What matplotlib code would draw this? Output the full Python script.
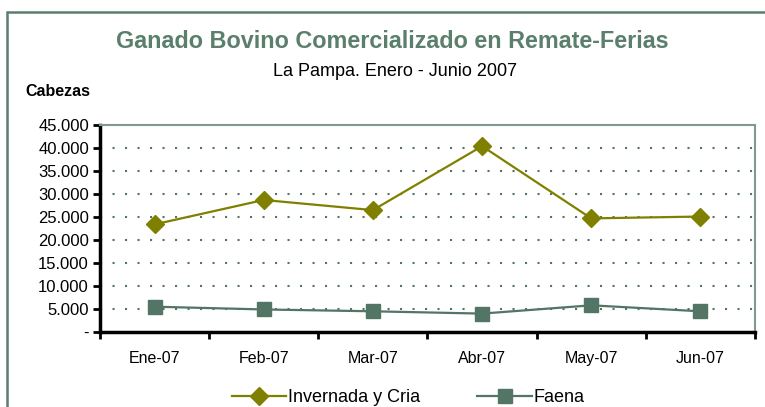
import matplotlib
matplotlib.use("Agg")
import matplotlib.pyplot as plt
from matplotlib.patches import Rectangle
from matplotlib.ticker import FuncFormatter, FixedLocator

plt.rcParams["font.family"] = ["Liberation Sans", "DejaVu Sans"]

# Data
months = ["Ene-07", "Feb-07", "Mar-07", "Abr-07", "May-07", "Jun-07"]
invernada = [23400, 28700, 26500, 40400, 24700, 25100]
faena = [5500, 4900, 4500, 4000, 5800, 4500]
y_ticks = [0, 5000, 10000, 15000, 20000, 25000, 30000, 35000, 40000, 45000]

OLIVE = "#808000"
SLATE = "#527565"
FRAME = "#5b7f6d"


def fmt_thousands(v, pos):
    if v == 0:
        return "-"
    return f"{int(v):,}".replace(",", ".")


fig = plt.figure(figsize=(7.65, 4.07), dpi=100, facecolor="white")

# outer chart frame
fig.patches.append(Rectangle((7 / 765, -0.1), 1.2, 1.1 - 12 / 407,
                             transform=fig.transFigure, fill=False,
                             edgecolor=FRAME, linewidth=1.8, clip_on=False))

ax = fig.add_axes([100 / 765, 75 / 407, 655 / 765, 207 / 407])
x = list(range(len(months)))

ax.plot(x, invernada, color=OLIVE, linewidth=1.6, marker="D",
        markersize=9, label="Invernada y Cria", zorder=3)
ax.plot(x, faena, color=SLATE, linewidth=1.6, marker="s",
        markersize=10, label="Faena", zorder=3)

ax.set_xlim(-0.5, len(months) - 0.5)
ax.set_ylim(0, 45000)

ax.set_yticks(y_ticks)
ax.yaxis.set_major_formatter(FuncFormatter(fmt_thousands))
for v in y_ticks[1:-1]:
    ax.axhline(v, color=SLATE, linewidth=1.5, linestyle=(0, (1, 5)), zorder=1)

ax.set_xticks(x)
ax.set_xticklabels(months)
ax.xaxis.set_minor_locator(FixedLocator([i - 0.5 for i in range(len(months) + 1)]))
ax.tick_params(axis="x", which="major", length=0, pad=14, labelsize=11.5)
ax.tick_params(axis="x", which="minor", length=5, width=2, direction="out")
ax.tick_params(axis="y", length=5, width=2, labelsize=12, pad=3)

ax.spines["left"].set_linewidth(2.5)
ax.spines["bottom"].set_linewidth(2.5)
ax.spines["top"].set_color("#7f9a8c")
ax.spines["right"].set_color("#7f9a8c")
ax.spines["top"].set_linewidth(1.5)
ax.spines["right"].set_linewidth(1.5)

fig.text(392 / 765, 1 - 42 / 407, "Ganado Bovino Comercializado en Remate-Ferias",
         ha="center", va="center", fontsize=16.8, fontweight="bold", color=FRAME)
fig.text(395 / 765, 1 - 71 / 407, "La Pampa. Enero - Junio 2007",
         ha="center", va="center", fontsize=13, color="black")
fig.text(25 / 765, 1 - 92 / 407, "Cabezas", ha="left", va="center",
         fontsize=11.5, fontweight="bold")

fig.legend(loc="center", bbox_to_anchor=(408 / 765, 9 / 407), ncol=2,
           frameon=False, fontsize=13, handlelength=3.0, handletextpad=0.1,
           columnspacing=3.2)

fig.savefig("out.png", dpi=100, facecolor="white")
